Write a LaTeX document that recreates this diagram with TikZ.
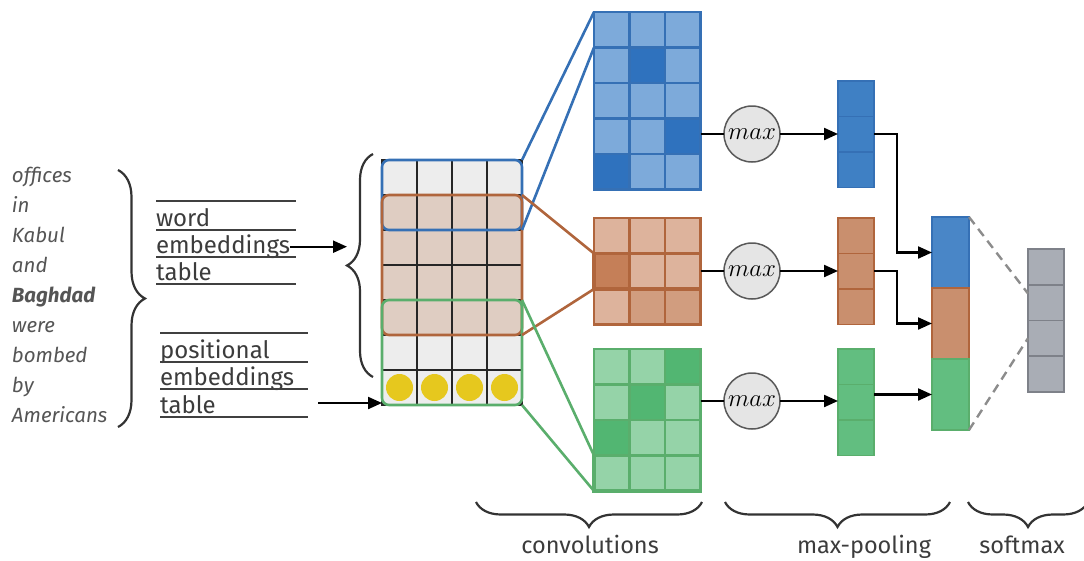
\documentclass[tikz,border=0pt]{standalone}
\usepackage{fontspec}
\setmainfont{Fira Sans}
\usetikzlibrary{arrows.meta,decorations.pathreplacing}

\definecolor{blueLine}{HTML}{3570B5}
\definecolor{blueLight}{HTML}{7DAADA}
\definecolor{blueDark}{HTML}{2F72BE}
\definecolor{bluePool}{HTML}{3F80C4}
\definecolor{brownLine}{HTML}{B0653C}
\definecolor{brownLight}{HTML}{DDB39C}
\definecolor{brownMid}{HTML}{D19D7F}
\definecolor{brownDark}{HTML}{C57F58}
\definecolor{brownPool}{HTML}{C98F6E}
\definecolor{greenLine}{HTML}{5AAE6C}
\definecolor{greenLight}{HTML}{95D3A8}
\definecolor{greenDark}{HTML}{52B672}
\definecolor{greenPool}{HTML}{62BE80}
\definecolor{tanFill}{HTML}{DFCDC2}
\definecolor{gridGrey}{HTML}{EDEDED}
\definecolor{dotYellow}{HTML}{E6C81E}
\definecolor{smGrey}{HTML}{A9ADB5}
\definecolor{smLine}{HTML}{7E8189}
\definecolor{textGrey}{HTML}{3C3C3C}
\definecolor{wordGrey}{HTML}{555555}

\begin{document}
\begin{tikzpicture}[
        x=1pt, y=-1pt,
        every node/.style={inner sep=0pt, outer sep=0pt},
        gcell/.style={rectangle, draw=black!85, line width=1.2pt, minimum size=35pt},
        window/.style={rectangle, rounded corners=7pt, line width=2.6pt, minimum width=140pt},
        ccell/.style={rectangle, line width=2.2pt, minimum width=35.5pt, minimum height=35.5pt},
        maxNode/.style={circle, draw=black!65, fill=black!10, line width=1.5pt, minimum size=56pt, font=\fontsize{24}{26}\selectfont},
        poolCell/.style={rectangle, line width=1.6pt, minimum width=36pt, minimum height=35.5pt},
        catCell/.style={rectangle, line width=1.4pt, minimum width=37pt, minimum height=71pt},
        smCell/.style={rectangle, draw=smLine, fill=smGrey, line width=1.6pt, minimum width=36pt, minimum height=35.7pt},
        arr/.style={-{Triangle[length=14pt,width=12pt]}, line width=2.2pt, black},
        rule/.style={line width=1.1pt, black!75},
        tblText/.style={anchor=base west, font=\fontsize{24}{26}\selectfont, text=textGrey},
        wordText/.style={anchor=base west, font=\itshape\fontsize{20.5}{22}\selectfont, text=wordGrey},
        bigBrace/.style={decorate, decoration={brace, amplitude=#1}, line width=2.2pt, black!80},
        capText/.style={anchor=base, font=\fontsize{23.5}{26}\selectfont, text=textGrey}
    ]
    \useasboundingbox (0,0) rectangle (1084,560);
    \clip (0,0) rectangle (1084,560);

    % sentence
    \foreach \w [count=\i] in {offices, in, Kabul, and, \textbf{Baghdad}, were, bombed, by, Americans}
        \node[wordText] (s\i) at (12, 152.5+30*\i) {\w};
    \draw[bigBrace=27pt] (118,170) -- (118,427);

    % lookup tables
    \node[tblText] (w1) at (156,226.5) {word};
    \node[tblText] (w2) at (156,253.5) {embeddings};
    \node[tblText] (w3) at (156,280.5) {table};
    \foreach \y in {201,230,257,284}
        \draw[rule] (156,\y) -- ++(140,0);
    \node[tblText] (p1) at (160,358) {positional};
    \node[tblText] (p2) at (160,385.5) {embeddings};
    \node[tblText] (p3) at (160,413) {table};
    \foreach \y in {333,362,389,417}
        \draw[rule] (160,\y) -- ++(148,0);

    % input matrix
    \fill[gridGrey, rounded corners=6pt] (382,160) rectangle (522,405);
    \fill[tanFill, rounded corners=8pt] (382,195) rectangle (522,335);
    \foreach \r in {1,...,7}
        \foreach \c in {1,...,4}
            \node[gcell] (in-\r-\c) at ({364.5+35*\c}, {142.5+35*\r}) {};
    \foreach \c in {1,...,4}
        \fill[dotYellow] (in-7-\c) circle (13.5pt);
    \node[window, draw=blueLine, minimum height=70pt] (blueWin) at (452,195) {};
    \node[window, draw=brownLine, minimum height=140pt] (brownWin) at (452,265) {};
    \node[window, draw=greenLine, minimum height=105pt] (greenWin) at (452,352.5) {};
    \draw[bigBrace=26pt] (373,377) -- (373,154);
    \coordinate (embIn) at (347,265);
    \coordinate (posOut) at (318,403);
    \draw[arr] (w2.east) -- (w2.east -| embIn);
    \draw[arr] (posOut) -- (posOut -| greenWin.west);

    % filter windows to feature maps
    \draw[blueLine, line width=2.6pt] (blueWin.north east) -- (594,12) coordinate (cbTop);
    \draw[blueLine, line width=2.6pt] (blueWin.south east) -- (594,47.5) coordinate (cbBot);
    \draw[brownLine, line width=2.6pt] (brownWin.north east) -- (594,253.5) coordinate (ctTop);
    \draw[brownLine, line width=2.6pt] (brownWin.south east) -- (594,289) coordinate (ctBot);
    \draw[greenLine, line width=2.6pt] (greenWin.north east) -- (594,455.5) coordinate (cgTop);
    \draw[greenLine, line width=2.6pt] (greenWin.south east) -- (594,491) coordinate (cgBot);

    % convolutions
    \foreach \r in {1,...,5}
        \foreach \c in {1,...,3}
            \node[ccell, draw=blueLine, fill=blueLight] (cb-\r-\c) at ({576.25+35.5*\c}, {-5.75+35.5*\r}) {};
    \foreach \r/\c [count=\i] in {2/2, 4/3, 5/1}
        \node[ccell, draw=blueLine, fill=blueDark] (cbDark\i) at (cb-\r-\c) {};
    \foreach \r in {1,...,3}
        \foreach \c in {1,...,3}
            \node[ccell, draw=brownLine, fill=brownLight] (ct-\r-\c) at ({576.25+35.5*\c}, {200.25+35.5*\r}) {};
    \node[ccell, draw=brownLine, fill=brownDark] (ctDark1) at (ct-2-1) {};
    \node[ccell, draw=brownLine, fill=brownMid] (ctDark2) at (ct-3-2) {};
    \node[ccell, draw=brownLine, fill=brownMid] (ctDark3) at (ct-3-3) {};
    \draw[brownLine, line width=3.4pt] (ct-2-1.north west) rectangle (ct-2-3.south east);
    \foreach \r in {1,...,4}
        \foreach \c in {1,...,3}
            \node[ccell, draw=greenLine, fill=greenLight] (cg-\r-\c) at ({576.25+35.5*\c}, {331.25+35.5*\r}) {};
    \foreach \r/\c [count=\i] in {1/3, 2/2, 3/1}
        \node[ccell, draw=greenLine, fill=greenDark] (cgDark\i) at (cg-\r-\c) {};
    \draw[greenLine, line width=3.4pt] (cg-4-1.north west) rectangle (cg-4-3.south east);

    % max-pooling
    \node[maxNode] (maxBlue) at (752,134) {$max$};
    \node[maxNode] (maxBrown) at (752,271) {$max$};
    \node[maxNode] (maxGreen) at (752,401) {$max$};
    \foreach \r in {1,...,3} {
        \node[poolCell, draw=blueLine, fill=bluePool] (pb-\r) at (856, 63.25+35.5*\r) {};
        \node[poolCell, draw=brownLine, fill=brownPool] (pt-\r) at (856, 200.25+35.5*\r) {};
        \node[poolCell, draw=greenLine, fill=greenPool] (pg-\r) at (856, 331.25+35.5*\r) {};
    }
    \draw[line width=2.2pt] (maxBlue.west -| cb-4-3.east) -- (maxBlue.west);
    \draw[line width=2.2pt] (maxBrown.west -| ct-2-3.east) -- (maxBrown.west);
    \draw[line width=2.2pt] (maxGreen.west -| cg-2-3.east) -- (maxGreen.west);
    \draw[arr] (maxBlue.east) -- (maxBlue.east -| pb-2.west);
    \draw[arr] (maxBrown.east) -- (maxBrown.east -| pt-2.west);
    \draw[arr] (maxGreen.east) -- (maxGreen.east -| pg-2.west);

    % concatenation
    \node[catCell, draw=blueLine, fill=bluePool!95!white] (cat-1) at (950.5,252.5) {};
    \node[catCell, draw=brownLine, fill=brownPool] (cat-2) at (950.5,323.5) {};
    \node[catCell, draw=greenLine, fill=greenPool] (cat-3) at (950.5,394.5) {};
    \draw[arr] (maxBlue.east -| pb-2.east) -- ++(23,0) |- (cat-1.west);
    \draw[arr] (maxBrown.east -| pt-2.east) -- ++(23,0) |- (cat-2.west);
    \draw[arr] (cat-3.west -| pg-2.east) -- (cat-3.west);

    % softmax
    \foreach \r in {1,...,4}
        \node[smCell] (sm-\r) at (1046, 231.15+35.7*\r) {};
    \draw[black!45, line width=2.4pt, dash pattern=on 9pt off 6pt] (cat-1.north east) -- ([yshift=9pt]sm-2.west);
    \draw[black!45, line width=2.4pt, dash pattern=on 9pt off 6pt] (cat-3.south east) -- (sm-3.west);

    % stage braces
    \draw[bigBrace=25pt] (702,502) -- (476,502);
    \node[capText] (convLbl) at (590,553) {convolutions};
    \draw[bigBrace=25pt] (950,502) -- (725,502);
    \node[capText] (poolLbl) at (864,553) {max-pooling};
    \draw[bigBrace=25pt] (1088,502) -- (968,502);
    \node[capText] (smLbl) at (1022,553) {softmax};
\end{tikzpicture}
\end{document}
